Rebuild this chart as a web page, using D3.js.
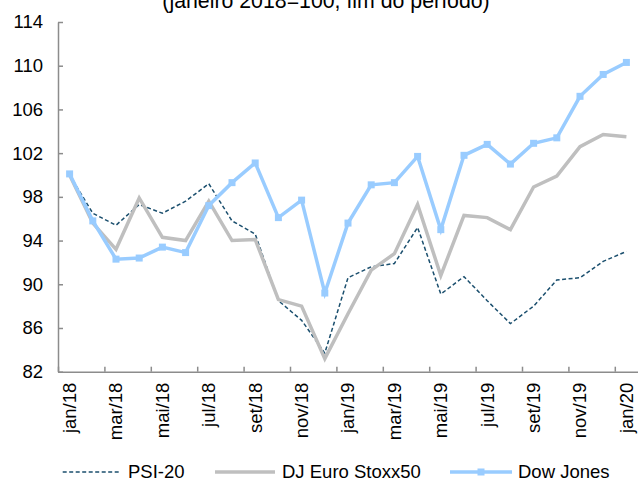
<!DOCTYPE html>
<html>
<head>
<meta charset="utf-8">
<script src="https://cdn.jsdelivr.net/npm/d3@7"></script>
<style>
  body { margin: 0; background: #fff; }
  svg { display: block; font-family: "Liberation Sans", Arial, sans-serif; }
</style>
</head>
<body>
<svg id="chart" width="638" height="481"></svg>
<script>
// months jan/18 .. jan/20
const months = ["jan/18","fev/18","mar/18","abr/18","mai/18","jun/18","jul/18","ago/18","set/18","out/18","nov/18","dez/18",
                "jan/19","fev/19","mar/19","abr/19","mai/19","jun/19","jul/19","ago/19","set/19","out/19","nov/19","dez/19","jan/20"];

const psi20 = [100.0, 96.5, 95.4, 97.3, 96.5, 97.6, 99.2, 95.8, 94.6, 88.5, 86.7, 83.7,
               90.6, 91.6, 91.9, 95.2, 89.1, 90.7, 88.5, 86.4, 88.0, 90.4, 90.6, 92.1, 93.0];
const euroStoxx = [100.0, 95.6, 93.2, 97.9, 94.3, 94.0, 97.6, 94.0, 94.1, 88.6, 88.0, 83.2,
                   87.3, 91.3, 92.8, 97.3, 90.8, 96.3, 96.1, 95.0, 98.9, 99.9, 102.6, 103.7, 103.5];
const dowJones = [100.1, 95.8, 92.3, 92.4, 93.4, 92.9, 97.2, 99.3, 101.1, 96.1, 97.7, 89.2,
                  95.6, 99.1, 99.3, 101.7, 95.0, 101.8, 102.8, 101.0, 102.9, 103.4, 107.2, 109.2, 110.3];

const yTicks = [82, 86, 90, 94, 98, 102, 106, 110, 114];
const title = "(janeiro 2018=100, fim do período)";

const series = [
  { name: "PSI-20", values: psi20, color: "#1b4f6e", width: 1.5, dash: "4,2.5", marker: false },
  { name: "DJ Euro Stoxx50", values: euroStoxx, color: "#bfbfbf", width: 3.5, dash: null, marker: false },
  { name: "Dow Jones", values: dowJones, color: "#99ccff", width: 3.5, dash: null, marker: true }
];

const svg = d3.select("#chart");
const plot = { left: 58, right: 638, top: 22, bottom: 371.7 };
const fontSize = 18.5;

const x = d3.scaleBand().domain(months).range([plot.left, plot.right]).padding(0);
const xb = d3.scaleLinear().domain([0, months.length]).range([plot.left, plot.right]);
const y = d3.scaleLinear().domain([82, 114]).range([plot.bottom, plot.top]);

// title (its upper part is cut off in the original)
svg.append("text")
  .attr("x", 326).attr("y", 7.5)
  .attr("text-anchor", "middle")
  .style("font-size", "21.3px")
  .text(title);

// y axis
const yAxis = svg.append("g")
  .attr("transform", `translate(${plot.left},0)`)
  .call(d3.axisLeft(y).tickValues(yTicks).tickSize(-5).tickPadding(15).tickSizeOuter(0));
yAxis.select(".domain").attr("stroke", "#8c8c8c").attr("stroke-width", 1.5);
yAxis.selectAll(".tick line").attr("stroke", "#8c8c8c").attr("stroke-width", 1.5);
yAxis.selectAll("text").style("font-size", fontSize + "px").attr("fill", "#000");

// x axis: ticks every two months on band boundaries
const xAxis = svg.append("g")
  .attr("transform", `translate(0,${plot.bottom})`)
  .call(d3.axisBottom(xb).tickValues(d3.range(0, months.length, 2)).tickSize(-5).tickFormat("").tickSizeOuter(0));
xAxis.select(".domain").attr("stroke", "#8c8c8c").attr("stroke-width", 1.5);
xAxis.selectAll(".tick line").attr("stroke", "#8c8c8c").attr("stroke-width", 1.5);

// x labels, rotated
const xLabels = svg.append("g")
  .attr("transform", `translate(0,${plot.bottom})`)
  .call(d3.axisBottom(x).tickValues(months.filter((d, i) => i % 2 === 0)).tickSize(0));
xLabels.select(".domain").remove();
xLabels.selectAll("text")
  .style("font-size", fontSize + "px")
  .attr("fill", "#000")
  .attr("text-anchor", "end")
  .attr("transform", "rotate(-90)")
  .attr("x", -11)
  .attr("y", 0)
  .attr("dy", "0.35em");

// lines
const line = d3.line()
  .x((d, i) => x(months[i]) + x.bandwidth() / 2)
  .y(d => y(d));

series.forEach(s => {
  svg.append("path")
    .datum(s.values)
    .attr("fill", "none")
    .attr("stroke", s.color)
    .attr("stroke-width", s.width)
    .attr("stroke-dasharray", s.dash)
    .attr("stroke-linejoin", "miter")
    .attr("d", line);
  if (s.marker) {
    svg.append("g").selectAll("rect")
      .data(s.values)
      .join("rect")
      .attr("x", (d, i) => x(months[i]) + x.bandwidth() / 2 - 3.5)
      .attr("y", d => y(d) - 3.5)
      .attr("width", 7).attr("height", 7)
      .attr("fill", s.color);
  }
});

// legend
const legendY = 472;
const legendItems = [
  { s: series[0], x1: 62.7, x2: 121, tx: 128 },
  { s: series[1], x1: 215, x2: 275, tx: 282 },
  { s: series[2], x1: 450, x2: 512, tx: 518 }
];
const legend = svg.append("g");
legendItems.forEach(it => {
  legend.append("line")
    .attr("x1", it.x1).attr("x2", it.x2)
    .attr("y1", legendY).attr("y2", legendY)
    .attr("stroke", it.s.color)
    .attr("stroke-width", it.s.width)
    .attr("stroke-dasharray", it.s.dash);
  if (it.s.marker) {
    legend.append("rect")
      .attr("x", (it.x1 + it.x2) / 2 - 3.5).attr("y", legendY - 3.5)
      .attr("width", 7).attr("height", 7)
      .attr("fill", it.s.color);
  }
  legend.append("text")
    .attr("x", it.tx).attr("y", legendY)
    .attr("dy", "0.35em")
    .style("font-size", fontSize + "px")
    .text(it.s.name);
});
</script>
</body>
</html>
